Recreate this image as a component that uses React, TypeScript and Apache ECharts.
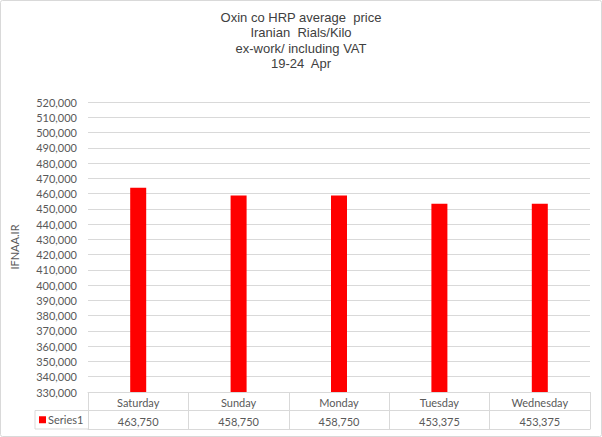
import React, { useEffect, useRef } from "react";
import * as echarts from "echarts";

const categories = ["Saturday", "Sunday", "Monday", "Tuesday", "Wednesday"];
const series1 = [463750, 458750, 458750, 453375, 453375];
const seriesName = "Series1";
const titleLines = ["Oxin co HRP average  price", "Iranian  Rials/Kilo", "ex-work/ including VAT", "19-24  Apr"];
const yAxisName = "IFNAA.IR";
const yMin = 330000;
const yMax = 520000;
const yInterval = 10000;

const fmt = (v: number) => v.toLocaleString("en-US");

const GRID_LEFT = 88;
const GRID_RIGHT = 12;
const GRID_TOP = 102;
const GRID_BOTTOM = 45;
const ROW = 18.5;
const TEXT = "#595959";
const LINE = "#d9d9d9";
const LABEL_FONT = "Lato, 'Open Sans', sans-serif";

export default function App() {
  const ref = useRef<HTMLDivElement>(null);
  useEffect(() => {
    if (!ref.current) return;
    const chart = echarts.init(ref.current, undefined, { renderer: "svg" });
    const W = 602;
    const H = 437;
    const axisY = H - GRID_BOTTOM;
    chart.setOption({
      animation: false,
      backgroundColor: "#ffffff",
      title: {
        text: titleLines.join("\n"),
        left: "center",
        top: 5,
        textStyle: {
          fontFamily: "'Liberation Sans', Arial, sans-serif",
          fontSize: 13,
          fontWeight: "normal",
          color: "#404040",
          lineHeight: 15.3,
        },
      },
      grid: { left: GRID_LEFT, right: GRID_RIGHT, top: GRID_TOP, bottom: GRID_BOTTOM },
      xAxis: [
        {
          type: "category",
          data: categories,
          position: "bottom",
          axisLine: { show: true, lineStyle: { color: LINE } },
          axisTick: { show: true, interval: 0, length: ROW * 2, lineStyle: { color: LINE } },
          axisLabel: { interval: 0, margin: 5, color: TEXT, fontSize: 11, fontFamily: LABEL_FONT },
        },
        {
          type: "category",
          data: series1.map(fmt),
          position: "bottom",
          offset: ROW,
          axisLine: { show: true, lineStyle: { color: LINE } },
          axisTick: { show: false },
          axisLabel: { interval: 0, margin: 5, color: TEXT, fontSize: 11, fontFamily: LABEL_FONT },
        },
        {
          type: "category",
          data: categories,
          position: "bottom",
          offset: ROW * 2,
          axisLine: { show: true, lineStyle: { color: LINE } },
          axisTick: { show: false },
          axisLabel: { show: false },
        },
      ],
      yAxis: {
        type: "value",
        min: yMin,
        max: yMax,
        interval: yInterval,
        name: yAxisName,
        nameLocation: "middle",
        nameRotate: 90,
        nameGap: 68,
        nameTextStyle: { color: TEXT, fontSize: 11, fontFamily: LABEL_FONT },
        axisLine: { show: false },
        axisTick: { show: false },
        splitLine: { lineStyle: { color: LINE } },
        axisLabel: { formatter: (v: number) => fmt(v), color: TEXT, fontSize: 11, margin: 11, fontFamily: LABEL_FONT },
      },
      series: [
        {
          name: seriesName,
          type: "bar",
          data: series1,
          barWidth: 16,
          itemStyle: { color: "#ff0000" },
        },
      ],
      graphic: [
        {
          type: "rect",
          shape: { x: 0.5, y: 0.5, width: W - 1, height: H - 1, r: 2 },
          style: { fill: "none", stroke: LINE, lineWidth: 1 },
          silent: true,
        },
        {
          type: "polyline",
          shape: {
            points: [
              [GRID_LEFT, axisY + ROW],
              [35, axisY + ROW],
              [35, axisY + ROW * 2],
              [GRID_LEFT, axisY + ROW * 2],
            ],
          },
          style: { fill: "none", stroke: LINE, lineWidth: 1 },
          silent: true,
        },
        {
          type: "rect",
          shape: { x: 39, y: axisY + ROW * 1.5 - 3.5, width: 7, height: 7 },
          style: { fill: "#ff0000" },
          silent: true,
        },
        {
          type: "text",
          x: 48,
          y: axisY + ROW * 1.5,
          style: {
            text: seriesName,
            fill: TEXT,
            fontSize: 11,
            fontFamily: LABEL_FONT,
            verticalAlign: "middle",
          },
          silent: true,
        },
      ],
    });
    return () => chart.dispose();
  }, []);
  return (
    <div
      ref={ref}
      style={{ position: "fixed", left: 0, top: 0, width: 602, height: 437 }}
    />
  );
}
